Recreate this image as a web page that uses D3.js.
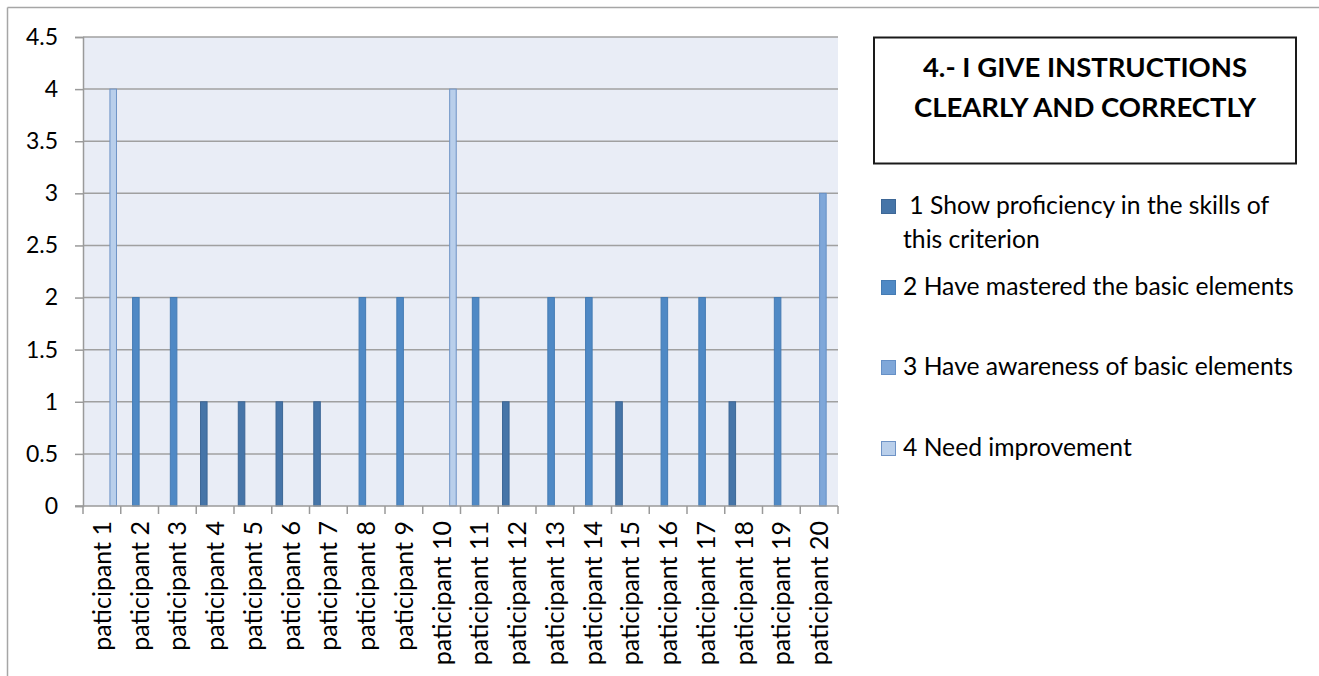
<!DOCTYPE html>
<html>
<head>
<meta charset="utf-8">
<script src="https://cdn.jsdelivr.net/npm/d3@7"></script>
<style>
  body { margin: 0; background: #fff; }
  svg { display: block; font-family: Lato, "Open Sans", sans-serif; }
</style>
</head>
<body>
<svg id="chart" width="1319" height="676"></svg>
<script>
var participants = ['paticipant 1', 'paticipant 2', 'paticipant 3', 'paticipant 4', 'paticipant 5',
  'paticipant 6', 'paticipant 7', 'paticipant 8', 'paticipant 9', 'paticipant 10',
  'paticipant 11', 'paticipant 12', 'paticipant 13', 'paticipant 14', 'paticipant 15',
  'paticipant 16', 'paticipant 17', 'paticipant 18', 'paticipant 19', 'paticipant 20']

// one value per participant per series (0 = no bar)
var series1 = [0, 0, 0, 1, 1, 1, 1, 0, 0, 0, 0, 1, 0, 0, 1, 0, 0, 1, 0, 0]
var series2 = [0, 2, 2, 0, 0, 0, 0, 2, 2, 0, 2, 0, 2, 2, 0, 2, 2, 0, 2, 0]
var series3 = [0, 0, 0, 0, 0, 0, 0, 0, 0, 0, 0, 0, 0, 0, 0, 0, 0, 0, 0, 3]
var series4 = [4, 0, 0, 0, 0, 0, 0, 0, 0, 4, 0, 0, 0, 0, 0, 0, 0, 0, 0, 0]

var seriesNames = [[' 1 Show proficiency in the skills of', 'this criterion'],
  ['2 Have mastered the basic elements'],
  ['3 Have awareness of basic elements'],
  ['4 Need improvement']]
var yTicks = [0, 0.5, 1, 1.5, 2, 2.5, 3, 3.5, 4, 4.5]
var title = ['4.- I GIVE INSTRUCTIONS', 'CLEARLY AND CORRECTLY']

var fills = ['#4675a8', '#4f89c5', '#7fa7d9', '#b9cfeb']
var strokes = ['#3d6796', '#457bb3', '#6690c6', '#6e93c6']
var allSeries = [series1, series2, series3, series4]

var svg = d3.select('#chart')
var pl = 83, pr = 838, pt = 37, pb = 506

// outer chart border (only top and left visible)
svg.append('line').attr('x1', 7.5).attr('x2', 1319).attr('y1', 7.5).attr('y2', 7.5)
  .attr('stroke', '#a6a6a6').attr('stroke-width', 1.5)
svg.append('line').attr('x1', 7.5).attr('x2', 7.5).attr('y1', 7.5).attr('y2', 676)
  .attr('stroke', '#a6a6a6').attr('stroke-width', 1.5)

var x0 = d3.scaleBand().domain(participants).range([pl, pr])
  .paddingInner(0.2).paddingOuter(0.1)
var x1 = d3.scaleBand().domain(d3.range(4)).range([0, x0.bandwidth()])
var y = d3.scaleLinear().domain([0, 4.5]).range([pb, pt])

svg.append('rect').attr('x', pl).attr('y', pt)
  .attr('width', pr - pl).attr('height', pb - pt)
  .attr('fill', '#e9edf6')

// gridlines
svg.append('g').selectAll('line').data(yTicks.slice(1)).enter().append('line')
  .attr('x1', pl).attr('x2', pr)
  .attr('y1', function(d) { return y(d) }).attr('y2', function(d) { return y(d) })
  .attr('stroke', '#a0a0a0').attr('stroke-width', 1.5)

// bars
allSeries.forEach(function(vals, si) {
  var data = participants.map(function(p, i) { return { p: p, v: vals[i] } })
    .filter(function(d) { return d.v > 0 })
  svg.append('g').selectAll('rect').data(data).enter().append('rect')
    .attr('x', function(d) { return x0(d.p) + x1(si) + 0.5 })
    .attr('y', function(d) { return y(d.v) })
    .attr('width', x1.bandwidth() - 1)
    .attr('height', function(d) { return pb - y(d.v) })
    .attr('fill', fills[si])
    .attr('stroke', strokes[si]).attr('stroke-width', 1)
})

// y axis
var yAxis = d3.axisLeft(y).tickValues(yTicks).tickSize(8).tickPadding(17)
  .tickFormat(function(d) { return String(d) })
var gy = svg.append('g').attr('transform', 'translate(' + pl + ',0)').call(yAxis)
gy.select('.domain').attr('stroke', '#9a9a9a').attr('stroke-width', 1.5)
gy.selectAll('.tick line').attr('stroke', '#9a9a9a').attr('stroke-width', 1.5)
gy.selectAll('.tick text').attr('font-size', 23).attr('fill', '#000')
  .attr('font-family', 'Lato, sans-serif')

// x axis: line and ticks at category boundaries
var step = x0.step()
svg.append('line').attr('x1', pl - 8).attr('x2', pr).attr('y1', pb).attr('y2', pb)
  .attr('stroke', '#9a9a9a').attr('stroke-width', 1.5)
var bounds = d3.range(participants.length + 1).map(function(i) { return pl + i * step })
svg.append('g').selectAll('line').data(bounds).enter().append('line')
  .attr('x1', function(d) { return d }).attr('x2', function(d) { return d })
  .attr('y1', pb).attr('y2', pb + 8)
  .attr('stroke', '#9a9a9a').attr('stroke-width', 1.5)

svg.append('g').selectAll('text').data(participants).enter().append('text')
  .attr('transform', function(d) {
    return 'translate(' + (x0(d) + x0.bandwidth() / 2 + 9) + ',' + (pb + 15) + ') rotate(-90)'
  })
  .attr('text-anchor', 'end')
  .attr('font-size', 25)
  .text(function(d) { return d })

// title box
svg.append('rect').attr('x', 874).attr('y', 37.5).attr('width', 422).attr('height', 126)
  .attr('fill', '#fff').attr('stroke', '#1a1a1a').attr('stroke-width', 2)
svg.append('g').selectAll('text').data(title).enter().append('text')
  .attr('x', 1085).attr('y', function(d, i) { return 77 + i * 39.5 })
  .attr('text-anchor', 'middle').attr('font-weight', 'bold').attr('font-size', 27.5)
  .text(function(d) { return d })

// legend
var legendY = [214, 295, 375, 456]
var lg = svg.append('g').selectAll('g').data(seriesNames).enter().append('g')
  .attr('transform', function(d, i) { return 'translate(881,' + legendY[i] + ')' })
lg.append('rect').attr('x', 0.5).attr('y', -14.5).attr('width', 14).attr('height', 14)
  .attr('fill', function(d, i) { return fills[i] })
  .attr('stroke', function(d, i) { return strokes[i] })
lg.each(function(d) {
  d3.select(this).selectAll('text').data(d).enter().append('text')
    .attr('x', 22).attr('y', function(t, j) { return j * 34 })
    .attr('font-size', 24.7)
    .style('white-space', 'pre')
    .text(function(t) { return t })
})
</script>
</body>
</html>
